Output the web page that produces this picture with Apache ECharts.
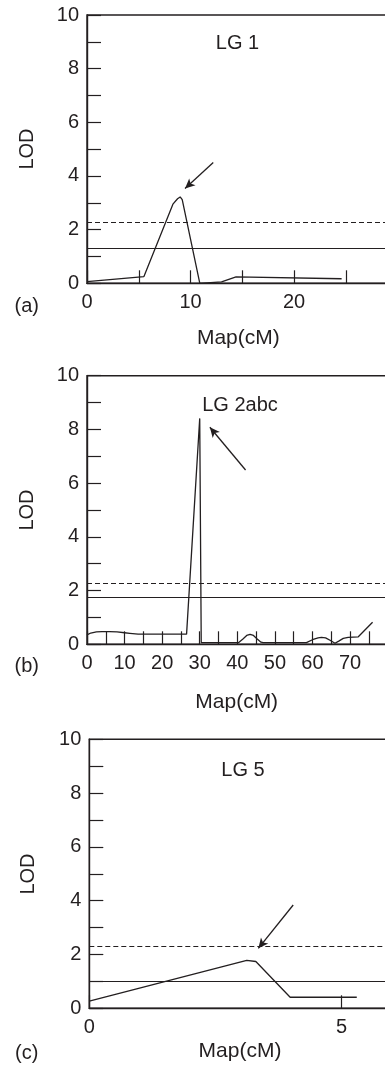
<!DOCTYPE html>
<html>
<head>
<meta charset="utf-8">
<script src="https://cdn.jsdelivr.net/npm/echarts@6/dist/echarts.min.js"></script>
<style>
html,body{margin:0;padding:0;background:#fff;}
#c{width:385px;height:1065px;}
</style>
</head>
<body>
<div id="c"></div>
<script>
// ---- Data ----
const lodTicks = [0, 2, 4, 6, 8, 10];

const lg1Map = [0, 5.5, 8.3, 8.75, 9.0, 9.2, 10.9, 13.0, 14.4, 24.6];
const lg1Lod = [0.06, 0.25, 2.95, 3.15, 3.22, 3.12, 0.0, 0.05, 0.24, 0.17];
const lg1Thresholds = { dashed: 2.29, solid: 1.30 };
const lg1Arrow = [[12.2, 4.5], [9.47, 3.53]];

const lg2Map = [0, 1, 2.5, 4, 6, 8, 10, 11.4, 13.6, 26.5, 30.0, 30.4, 40.3, 41.5, 42.5, 43.4, 44.3, 45.3, 46.3, 46.9, 58.4, 60, 61.5, 62.4, 63.5, 64.8, 66, 67, 68.2, 69.5, 72.2, 76];
const lg2Lod = [0.35, 0.42, 0.46, 0.47, 0.47, 0.46, 0.43, 0.41, 0.38, 0.38, 8.41, 0.06, 0.06, 0.2, 0.33, 0.37, 0.33, 0.2, 0.08, 0.06, 0.06, 0.17, 0.24, 0.26, 0.24, 0.14, 0.04, 0.12, 0.22, 0.26, 0.28, 0.82];
const lg2Thresholds = { dashed: 2.27, solid: 1.74 };
const lg2Arrow = [[42.2, 6.49], [32.7, 8.08]];

const lg5Map = [0, 3.12, 3.3, 3.98, 5.30];
const lg5Lod = [0.27, 1.78, 1.74, 0.41, 0.41];
const lg5Thresholds = { dashed: 2.29, solid: 0.99 };
const lg5Arrow = [[4.04, 3.84], [3.35, 2.23]];

const panelTitles = ['LG 1', 'LG 2abc', 'LG 5'];
const panelLetters = ['(a)', '(b)', '(c)'];
const xName = 'Map(cM)';
const yName = 'LOD';

// ---- Layout ----
const INK = '#231f20';
const FONT = '"Liberation Sans", Arial, sans-serif';
const grids = [
  { left: 87, top: 15, width: 310.5, height: 268.3 },
  { left: 87, top: 375.7, width: 300.6, height: 268.6 },
  { left: 89.3, top: 739.3, width: 302.8, height: 269 }
];
const xConf = [
  { max: 30, interval: 10, minor: true },
  { max: 80, interval: 10, minor: true },
  { max: 6, interval: 5, minor: false }
];

function zip(a, b) { return a.map((v, i) => [v, b[i]]); }

const chart = echarts.init(document.getElementById('c'), null, { renderer: 'canvas' });

const option = {
  animation: false,
  backgroundColor: '#fff',
  grid: grids.map(g => Object.assign({ show: true, borderColor: INK, borderWidth: 1.4, backgroundColor: 'transparent', containLabel: false, outerBoundsMode: 'none' }, g)),
  xAxis: xConf.map((c, i) => ({
    type: 'value', gridIndex: i, min: 0, max: c.max, interval: c.interval,
    axisLine: { show: true, onZero: false, lineStyle: { color: INK, width: 1.4 } },
    axisTick: { show: true, inside: true, length: 13, lineStyle: { color: INK, width: 1.2 } },
    minorTick: { show: c.minor, splitNumber: 2, length: 13, lineStyle: { color: INK, width: 1.2 } },
    splitLine: { show: false },
    axisLabel: { show: true, margin: 9, color: INK, fontSize: 20, fontFamily: FONT, showMaxLabel: false, showMinLabel: true, hideOverlap: false }
  })),
  yAxis: [0, 1, 2].map(i => ({
    type: 'value', gridIndex: i, min: lodTicks[0], max: lodTicks[lodTicks.length - 1], interval: 2,
    axisLine: { show: true, onZero: false, lineStyle: { color: INK, width: 1.4 } },
    axisTick: { show: true, inside: true, length: 14, lineStyle: { color: INK, width: 1.2 } },
    minorTick: { show: true, splitNumber: 2, length: 14, lineStyle: { color: INK, width: 1.2 } },
    splitLine: { show: false },
    axisLabel: { show: true, margin: 8, color: INK, fontSize: 20, fontFamily: FONT }
  })),
  series: []
};

const panels = [
  { x: lg1Map, y: lg1Lod, th: lg1Thresholds, arrow: lg1Arrow },
  { x: lg2Map, y: lg2Lod, th: lg2Thresholds, arrow: lg2Arrow },
  { x: lg5Map, y: lg5Lod, th: lg5Thresholds, arrow: lg5Arrow }
];

panels.forEach((p, i) => {
  option.series.push({
    type: 'line', xAxisIndex: i, yAxisIndex: i,
    data: zip(p.x, p.y), showSymbol: false, symbol: 'none',
    lineStyle: { color: INK, width: 1.3 },
    z: 5,
    markLine: {
      silent: true, animation: false,
      symbol: ['none', 'none'],
      label: { show: false },
      data: [
        { yAxis: p.th.dashed, lineStyle: { type: [5, 3], color: INK, width: 1.2 } },
        { yAxis: p.th.solid, lineStyle: { type: 'solid', color: INK, width: 1.2 } },
        [
          { coord: p.arrow[0], symbol: 'none', lineStyle: { type: 'solid', color: INK, width: 1.3 } },
          { coord: p.arrow[1], symbol: 'arrow', symbolSize: [7, 10] }
        ]
      ]
    }
  });
});

const titlePos = [[237.5, 43.3], [240, 405], [243, 770]];
const xNamePos = [[238.3, 338], [236.7, 702], [240, 1051]];
const yNamePos = [[27, 149], [27, 510], [28, 874]];
const letterPos = [[26.7, 306], [26.7, 666.7], [26.7, 1053]];

const graphic = [];
for (let i = 0; i < 3; i++) {
  graphic.push({ type: 'text', x: titlePos[i][0], y: titlePos[i][1], z: 10,
    style: { text: panelTitles[i], font: '20px ' + FONT, fill: INK, align: 'center', verticalAlign: 'middle' } });
  graphic.push({ type: 'text', x: xNamePos[i][0], y: xNamePos[i][1], z: 10,
    style: { text: xName, font: '21px ' + FONT, fill: INK, align: 'center', verticalAlign: 'middle' } });
  graphic.push({ type: 'text', x: yNamePos[i][0], y: yNamePos[i][1], rotation: Math.PI / 2, z: 10,
    style: { text: yName, font: '20px ' + FONT, fill: INK, align: 'center', verticalAlign: 'middle' } });
  graphic.push({ type: 'text', x: letterPos[i][0], y: letterPos[i][1], z: 10,
    style: { text: panelLetters[i], font: '20px ' + FONT, fill: INK, align: 'center', verticalAlign: 'middle' } });
}
option.graphic = graphic;

chart.setOption(option);
</script>
</body>
</html>
